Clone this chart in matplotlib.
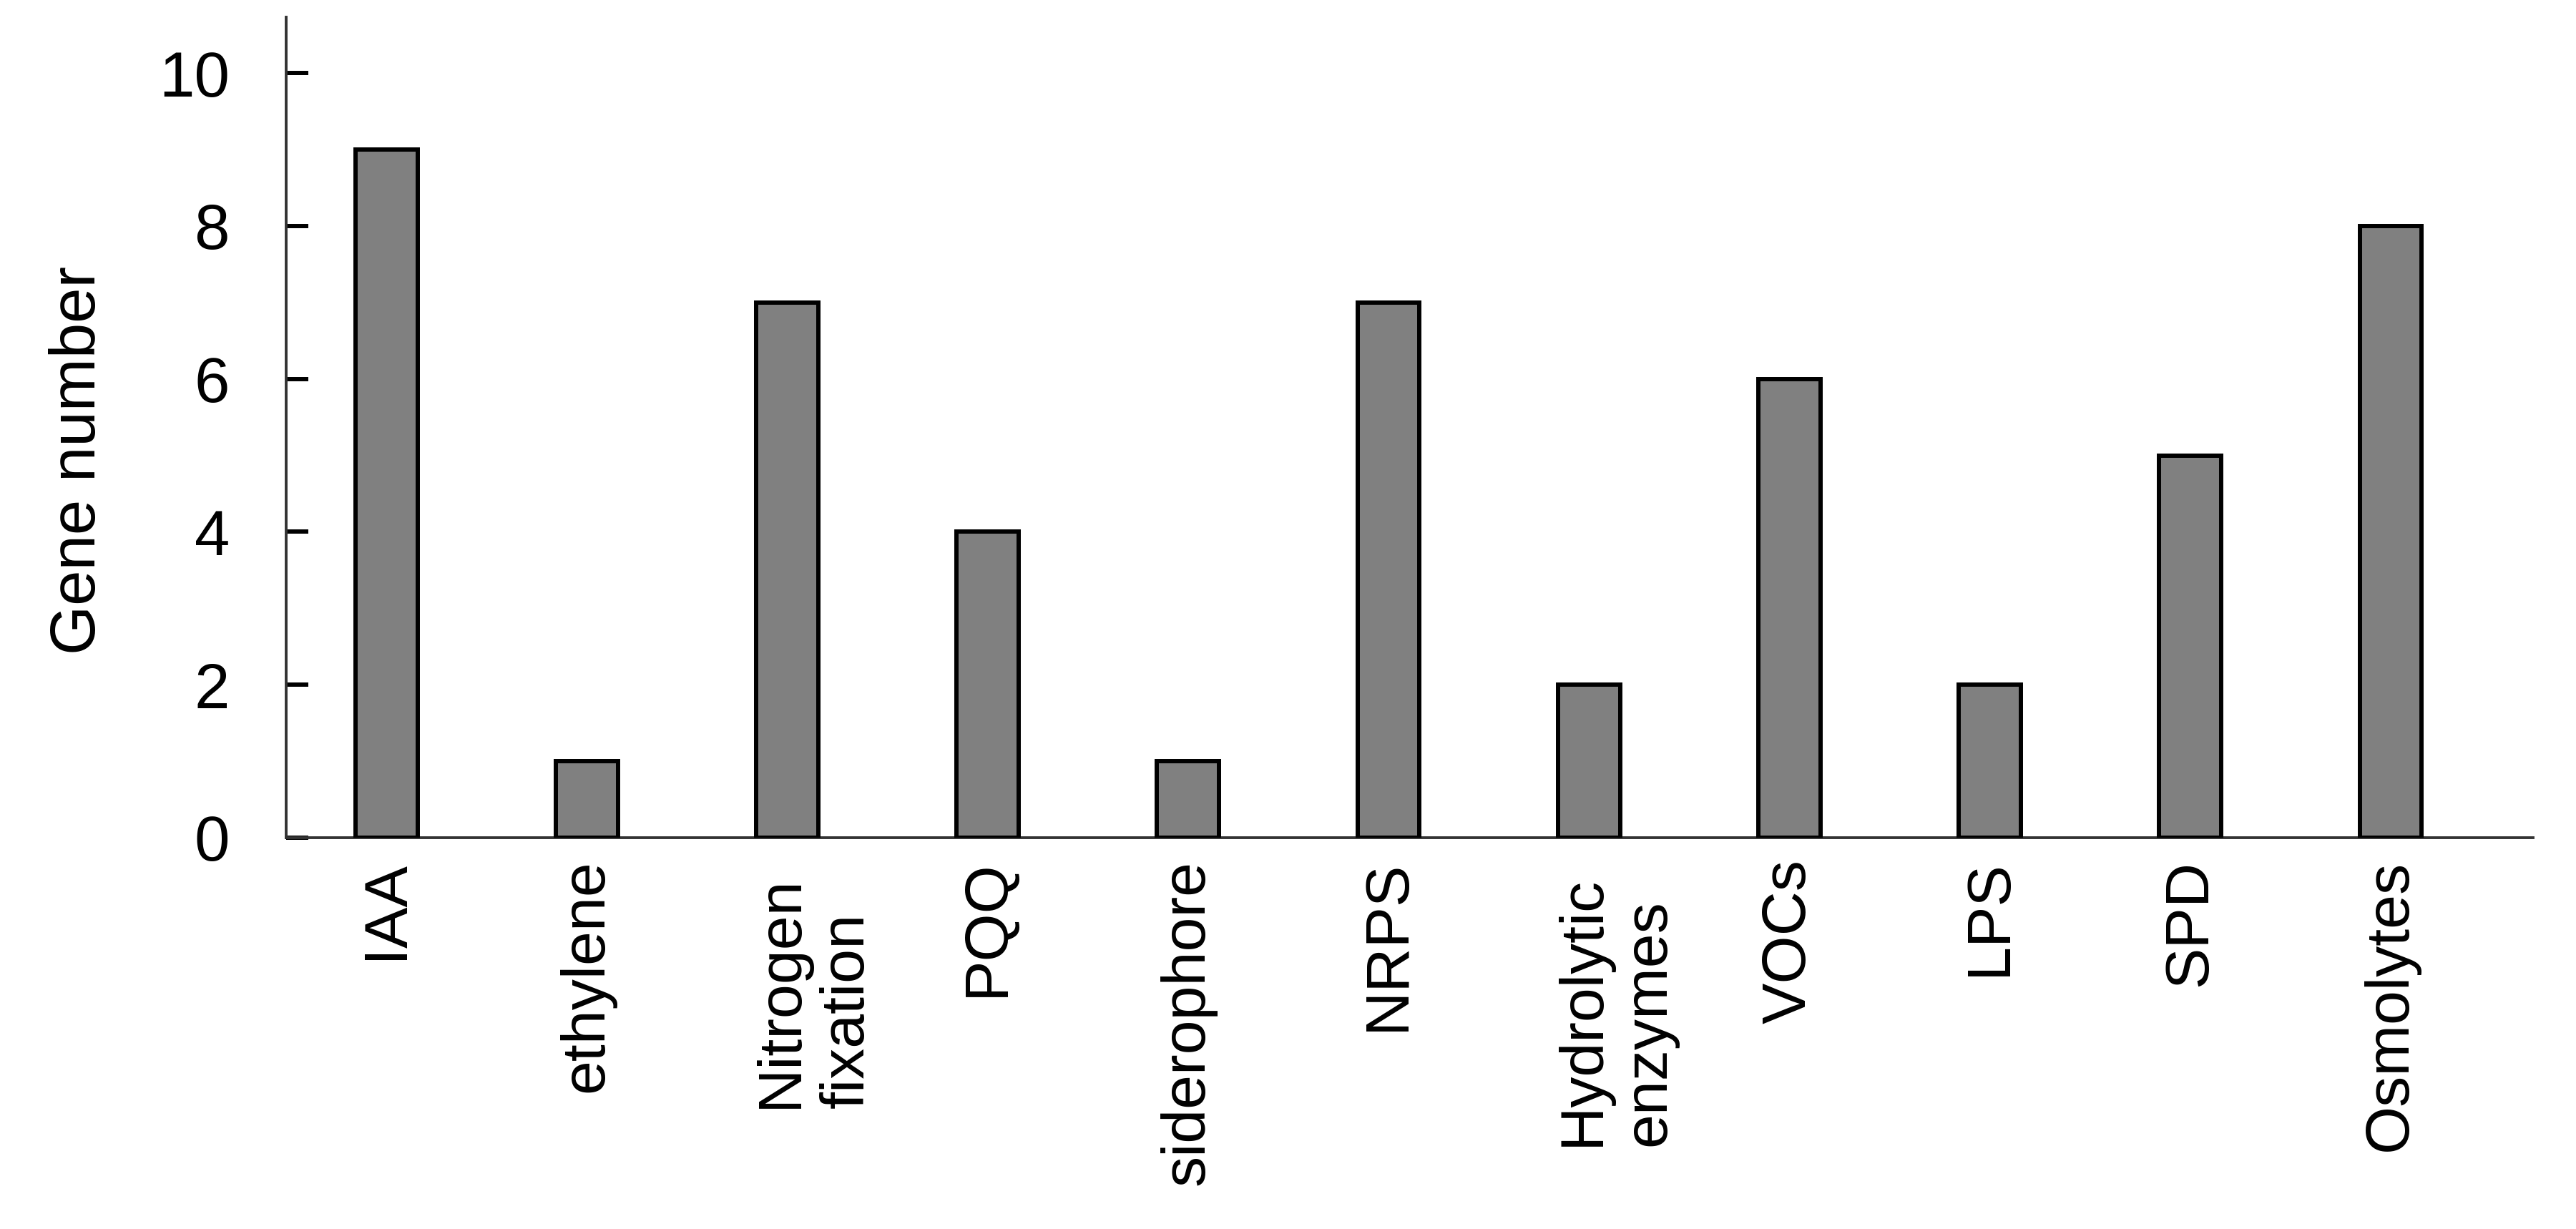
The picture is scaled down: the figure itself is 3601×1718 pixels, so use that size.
import matplotlib
matplotlib.use("Agg")
import matplotlib.pyplot as plt
import matplotlib.transforms as mtransforms

categories = ["IAA", "ethylene", "Nitrogen\nfixation", "PQQ", "siderophore", "NRPS",
              "Hydrolytic\nenzymes", "VOCs", "LPS", "SPD", "Osmolytes"]
gene_number = [9, 1, 7, 4, 1, 7, 2, 6, 2, 5, 8]
y_ticks = [0, 2, 4, 6, 8, 10]

plt.rcParams['font.family'] = ['Liberation Sans', 'DejaVu Sans']

fig = plt.figure(figsize=(36.01, 17.18), dpi=100)
ax = fig.add_axes([0.1111, 0.3184, 0.9833 - 0.1111, 0.986 - 0.3184])

x = list(range(len(categories)))
ax.bar(x, gene_number, width=0.31, color="#808080", edgecolor="black", linewidth=4.3, zorder=3)

ax.set_xlim(-0.5, 10.71)
ax.set_ylim(0, 10.73)
ax.set_yticks(y_ticks)
ax.set_xticks(x)
ax.set_xticklabels(categories, rotation=90, fontsize=62, ha="center", va="top",
                   multialignment="left", linespacing=1.2)

for sp in ["top", "right"]:
    ax.spines[sp].set_visible(False)
for sp in ["left", "bottom"]:
    ax.spines[sp].set_linewidth(2.8)
    ax.spines[sp].set_color("#333333")

ax.tick_params(axis="y", direction="in", length=22, width=4.3, labelsize=64, pad=57, color="black")
ax.tick_params(axis="x", length=0, pad=22)

offset = mtransforms.ScaledTranslation(0.38, -0.22, fig.dpi_scale_trans)
for lab in ax.get_xticklabels():
    if "\n" in lab.get_text():
        lab.set_transform(lab.get_transform() + offset)

ax.set_ylabel("Gene number", fontsize=64)
ax.yaxis.set_label_coords(-0.079, 0.46)

fig.savefig("out.png", dpi=100)
